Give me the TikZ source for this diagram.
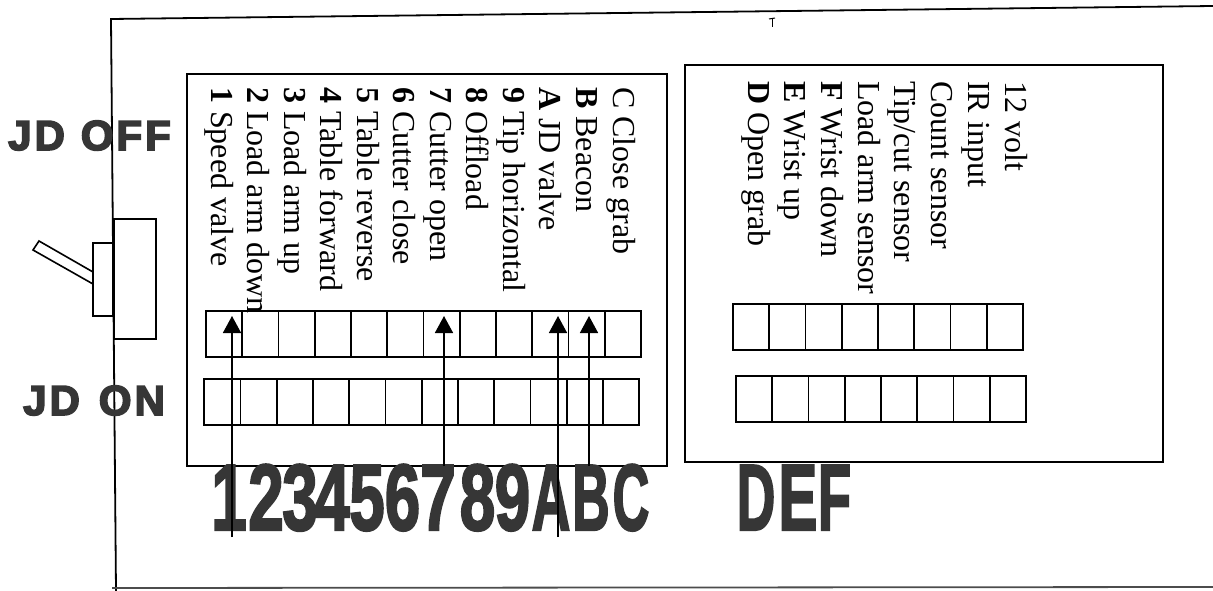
\documentclass[tikz,border=0pt]{standalone}
\usepackage{fontspec}
\usetikzlibrary{arrows.meta}
\newfontfamily\labserif{Liberation Serif}
\newfontfamily\heavysans[UprightFont={* Bold}, UprightFeatures={FakeBold=2.5}]{Liberation Sans}
\newfontfamily\jdsans[UprightFont={* Bold}, UprightFeatures={FakeBold=4}]{Liberation Sans}
\definecolor{ink}{HTML}{363636}
\begin{document}
\begin{tikzpicture}[x=1pt,y=-1pt,
  frame/.style={line width=1.8pt, black},
  cell/.style={draw, line width=1.8pt, minimum width=36.25pt, minimum height=46pt, inner sep=0pt, outer sep=0pt, anchor=north west},
  lab/.style={rotate=-90, anchor=base west, inner sep=0pt, font=\labserif\fontsize{32}{36}\selectfont},
  jd/.style={anchor=base west, inner sep=0pt, text=ink, font=\jdsans\fontsize{42}{46}\selectfont},
  big/.style={anchor=base, inner sep=0pt, text=ink, font=\heavysans\fontsize{94}{100}\selectfont},
  arr/.style={line width=1.6pt, -{Triangle[length=17pt,width=18pt]}}]
\useasboundingbox (0,0) rectangle (1213,591);
\fill[white] (0,0) rectangle (1213,591);

% outer frame
\draw[frame] (1213,6) -- (111,19) -- (116,591);
\draw[line width=1.8pt, black!70] (112,588) -- (1213,587);
% small scan mark
\draw[line width=1pt] (772,18) -- (772,27);
\draw[line width=1pt] (769,19) -- (775,18);

% switch
\draw[frame] (114,219) rectangle (156,339);
\draw[frame] (93,243) rectangle (113,316);
\draw[line width=1.6pt] (39,241) -- (93,272) -- (93,284) -- (33,250) -- cycle;

% JD labels
\node[jd] (jdoff) at (8,150) {J\kern3pt D\kern16pt O\kern3pt F\kern3pt F};
\node[jd] (jdon) at (23,415) {J\kern3pt D\kern19pt O\kern3pt N};

% panels
\draw[frame] (187,74) rectangle (667,466);
\draw[frame] (685,65) rectangle (1163,462);

% left panel labels
\foreach \t [count=\i from 0] in {{\textbf{1} Speed valve},{\textbf{2} Load arm down},{\textbf{3} Load arm up},{\textbf{4} Table forward},{\textbf{5} Table reverse},{\textbf{6} Cutter close},{\textbf{7} Cutter open},{\textbf{8} Offload},{\textbf{9} Tip horizontal},{\textbf{A} JD valve},{\textbf{B} Beacon},{C Close grab}}
  \node[lab] (L\i) at ({211+36.55*\i},87) {\t};

% right panel labels
\foreach \t [count=\i from 0] in {{12 volt},{IR input},{Count sensor},{Tip/cut sensor},{Load arm sensor},{\textbf{F} Wrist down},{\textbf{E} Wrist up},{\textbf{D} Open grab}}
  \node[lab] (R\i) at ({1005-36.7*\i},81) {\t};

% cells left
\foreach \i in {1,...,12} {
  \node[cell] (u\i) at ({206+36.25*(\i-1)},311) {};
  \node[cell] (d\i) at ({204.3+36.25*(\i-1)},379) {};
}
% cells right
\foreach \i in {1,...,8} {
  \node[cell] (ru\i) at ({733+36.25*(\i-1)},304) {};
  \node[cell] (rd\i) at ({736+36.25*(\i-1)},376) {};
}

% big characters
\node[big] (n1) at (229,530) {\scalebox{0.68}[1]{1}};
\node[big] (n2) at (266,530) {\scalebox{0.68}[1]{2}};
\node[big] (n3) at (300,530) {\scalebox{0.68}[1]{3}};
\node[big] (n4) at (332,530) {\scalebox{0.68}[1]{4}};
\node[big] (n5) at (367,530) {\scalebox{0.68}[1]{5}};
\node[big] (n6) at (402.5,530) {\scalebox{0.68}[1]{6}};
\node[big] (n7) at (438,530) {\scalebox{0.68}[1]{7}};
\node[big] (n8) at (477.5,530) {\scalebox{0.68}[1]{8}};
\node[big] (n9) at (512.5,530) {\scalebox{0.68}[1]{9}};
\node[big] (nA) at (551,530) {\scalebox{0.57}[1]{A}};
\node[big] (nB) at (591,530) {\scalebox{0.55}[1]{B}};
\node[big] (nC) at (631,530) {\scalebox{0.54}[1]{C}};
\node[big] (nD) at (756,530) {\scalebox{0.57}[1]{D}};
\node[big] (nE) at (798,530) {\scalebox{0.62}[1]{E}};
\node[big] (nF) at (834.5,530) {\scalebox{0.58}[1]{F}};

% arrows
\coordinate (s1) at (232,537); \coordinate (e1) at (232,316);
\coordinate (s7) at (444,466); \coordinate (e7) at (444,316);
\coordinate (sA) at (558,537); \coordinate (eA) at (558,316);
\coordinate (sB) at (589,466); \coordinate (eB) at (589,316);
\draw[arr] (s1) -- (e1);
\draw[arr] (s7) -- (e7);
\draw[arr] (sA) -- (eA);
\draw[arr] (sB) -- (eB);
\end{tikzpicture}
\end{document}
